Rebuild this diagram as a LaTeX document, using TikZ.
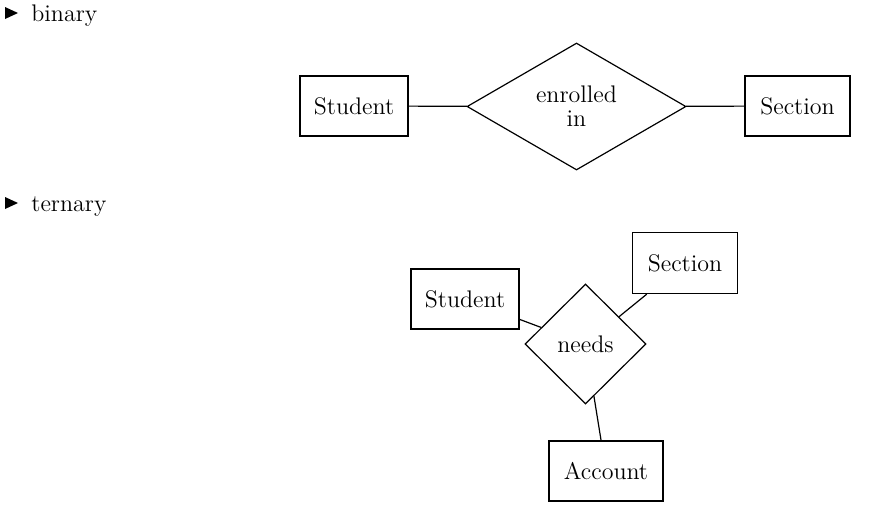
\documentclass[tikz,border=0pt]{standalone}
\usetikzlibrary{shapes.geometric}
\tikzset{
  entity/.style={draw, line width=0.6pt, font=\large, inner sep=0pt, minimum height=30pt},
  relship/.style={draw, diamond, line width=0.6pt, font={\fontsize{12}{12}\selectfont}, inner sep=0pt, align=center},
  link/.style={line width=0.6pt},
  heading/.style={anchor=base west, font=\large, inner sep=0pt}
}
\begin{document}
\begin{tikzpicture}[x=0.5pt,y=-0.5pt]
  %%%%% START %%%%%
  \useasboundingbox (0,0) rectangle (887,515);

  \fill (5,7) -- (18,13) -- (5,19) -- cycle;
  \node[heading] (binary) at (31,21) {binary};

  \node[entity, minimum width=54pt] (stud1) at (354,106) {Student};
  \node[relship, minimum width=109.5pt, minimum height=63.5pt] (enrol) at (576.5,106.5) {enrolled\\in};
  \node[entity, minimum width=52.5pt] (sect1) at (797.5,106) {Section};

  \draw[link] (stud1) -- (enrol);
  \draw[link] (enrol) -- (sect1);

  \fill (5,197) -- (18,203) -- (5,209) -- cycle;
  \node[heading] (ternary) at (31,211) {ternary};

  \node[entity, minimum width=54pt] (stud2) at (465,299) {Student};
  \node[entity, minimum width=52.5pt, minimum height=30.5pt] (sect2) at (685,263) {Section};
  \node[relship, minimum width=60.5pt, minimum height=60pt] (needs) at (585.5,344) {needs};
  \node[entity, minimum width=57pt] (acct) at (606,471) {Account};

  \draw[link] (stud2) -- (needs);
  \draw[link] (sect2) -- (needs);
  \draw[link] (needs) -- (acct);
  %%%%% END %%%%%
\end{tikzpicture}
\end{document}
